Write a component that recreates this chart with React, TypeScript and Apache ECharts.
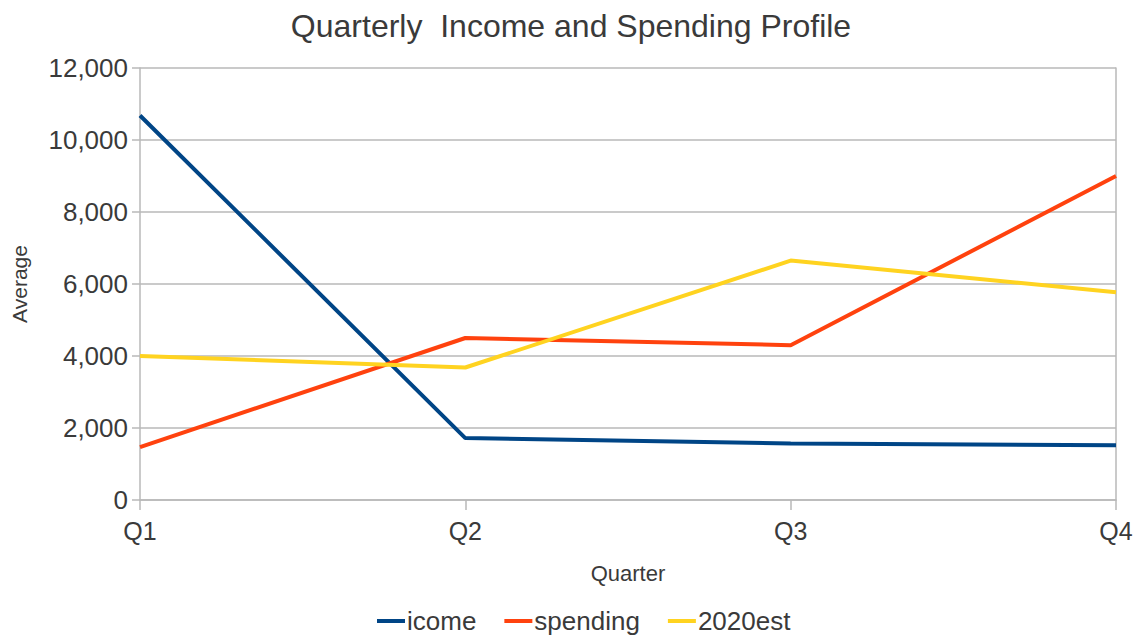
import React, { useEffect, useRef } from "react";
import * as echarts from "echarts";

const quarters = ["Q1", "Q2", "Q3", "Q4"];
const icome = [10680, 1720, 1570, 1520];
const spending = [1470, 4500, 4300, 9000];
const est2020 = [4000, 3680, 6650, 5770];
const yTicks = { min: 0, max: 12000, interval: 2000 };

const FONT = "'Liberation Sans', Arial, sans-serif";
const TEXT = "#3a3a3a";
const GRID = "#b9b9b9";

export default function App() {
  const ref = useRef<HTMLDivElement>(null);
  useEffect(() => {
    document.body.style.margin = "0";
    const chart = echarts.init(ref.current!, null, { renderer: "svg" });
    chart.setOption({
      animation: false,
      backgroundColor: "#ffffff",
      textStyle: { fontFamily: FONT },
      title: {
        text: "Quarterly  Income and Spending Profile",
        left: "center",
        top: 5,
        textStyle: { fontFamily: FONT, fontSize: 32, fontWeight: "normal", color: TEXT },
      },
      legend: {
        bottom: 4,
        left: 372,
        itemWidth: 28,
        itemHeight: 4,
        itemGap: 28,
        icon: "rect",
        textStyle: { fontFamily: FONT, fontSize: 26, color: TEXT, padding: [0, 0, 0, -3] },
        data: ["icome", "spending", "2020est"],
      },
      grid: { left: 140, right: 26, top: 68, bottom: 143 },
      xAxis: {
        type: "category",
        data: quarters,
        boundaryGap: false,
        name: "Quarter",
        nameLocation: "middle",
        nameGap: 62,
        nameTextStyle: { fontFamily: FONT, fontSize: 22, color: TEXT },
        axisLine: { show: true, lineStyle: { color: GRID, width: 1.5 } },
        axisTick: { show: true, length: 10, lineStyle: { color: GRID, width: 1.5 } },
        axisLabel: { fontFamily: FONT, fontSize: 25, color: TEXT, margin: 18 },
        splitLine: { show: false },
      },
      yAxis: [
        {
          type: "value",
          min: yTicks.min,
          max: yTicks.max,
          interval: yTicks.interval,
          name: "Average",
          nameLocation: "middle",
          nameGap: 110,
          nameRotate: 90,
          nameTextStyle: { fontFamily: FONT, fontSize: 21, color: TEXT },
          axisLine: { show: true, lineStyle: { color: GRID, width: 1.5 } },
          axisTick: { show: true, length: 8, lineStyle: { color: GRID, width: 1.5 } },
          axisLabel: {
            fontFamily: FONT,
            fontSize: 26,
            color: TEXT,
            margin: 12,
            formatter: (v: number) => v.toLocaleString("en-US"),
          },
          splitLine: { show: true, lineStyle: { color: GRID, width: 1.5 } },
        },
        {
          type: "value",
          min: yTicks.min,
          max: yTicks.max,
          interval: yTicks.interval,
          position: "right",
          axisLine: { show: true, lineStyle: { color: GRID, width: 1.5 } },
          axisTick: { show: false },
          axisLabel: { show: false },
          splitLine: { show: false },
        },
      ],
      series: [
        {
          name: "icome",
          type: "line",
          data: icome,
          symbol: "none",
          color: "#004586",
          lineStyle: { width: 4, color: "#004586" },
        },
        {
          name: "spending",
          type: "line",
          data: spending,
          symbol: "none",
          color: "#ff420e",
          lineStyle: { width: 4, color: "#ff420e" },
        },
        {
          name: "2020est",
          type: "line",
          data: est2020,
          symbol: "none",
          color: "#ffd320",
          lineStyle: { width: 4, color: "#ffd320" },
        },
      ],
    });
    return () => chart.dispose();
  }, []);
  return <div ref={ref} style={{ width: 1142, height: 643 }} />;
}
